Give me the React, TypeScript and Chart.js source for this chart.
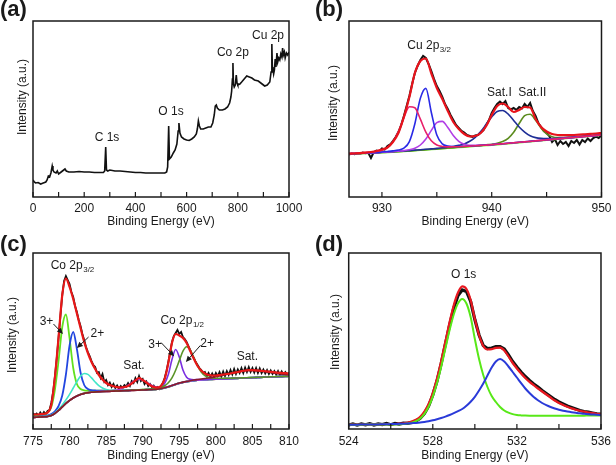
import React, { useEffect, useRef } from "react";
import { Chart, registerables } from "chart.js";

Chart.register(...registerables);

const FONT = '"Liberation Sans", Arial, Helvetica, sans-serif';
const INK = "#1a1a1a";

function grid(start: number, step: number, n: number): number[] {
  return Array.from({ length: n }, (_, i) => Math.round((start + step * i) * 100) / 100);
}

// ---------------- (a) survey ----------------
const surveyEnergy = [0,5,10,20,30,40,50,55,60,65,70,75,78,82,90,95,100,110,120,125,130,140,160,180,200,220,240,260,275,280,284,287,292,300,320,340,360,380,400,420,440,460,480,500,515,522,526,530,533,540,548,555,562,567,570,574,580,590,600,610,620,630,638,642,646,650,655,665,675,685,695,702,708,712,716,720,728,740,750,760,768,773,776,779,781,783,786,790,794,797,800,808,815,825,835,845,855,865,880,895,905,915,925,930,933,935,937,940,943,946,949,953,956,960,964,968,972,975,978,982,985,990,995,1000];
const surveyIntensity = [17,15,14,14.5,13,14,15,17,21,20,24,31,27,25,24,26,23,25,27,28,26,25,25,25.5,25,25,24.5,24.5,24.5,26,50,27,26,27,26,26,25.5,25,24.5,24.5,24,24,24,24,24,25,30,71,38,40,44,47,53,66,74,64,60,58,57,56.5,58,60,63,68,76,71,68,68,69,70,70,74,82,91,92,89,87,87,88,90,94,100,106,118,134,113,110,112,122,114,112,113,115,118,121,120,119,117,116,113,111,112,115,125,153,130,128,123,127,138,130,144,135,139,137,143,140,149,142,145,139,144,142,145];
const aTickLabels = [0,200,400,600,800,1000];
const aTickMarks = [0,100,200,300,400,500,600,700,800,900,1000];

// ---------------- (b) Cu 2p ----------------
const bTickLabels = [930,940,950];
const bTickMarks = [930,935,940,945,950];
const bBackground = [43.0,43.2,43.4,43.6,43.8,44.0,44.3,44.6,44.9,45.2,45.5,45.9,46.3,46.7,47.1,47.5,47.9,48.3,48.7,49.1,49.5,49.9,50.3,50.7,51.1,51.5,51.9,52.4,52.9,53.4,53.9,54.4,54.9,55.4,55.9,56.4,56.9,57.4,57.9,58.4,58.9,59.4,59.9,60.4,60.9,61.4,61.9];
const bPink = [0.5,0.6,0.7,0.9,1.1,1.5,2.5,4.7,10.2,20.2,33.9,44.4,43.0,31.1,17.8,8.7,4.1,2.2,1.4,1.1,0.8,0.7,0.6,0.5,0.5,0.4,0.4,0.35,0.3,0.3,0.3,0.3,0.25,0.25,0.25,0.2,0.2,0.2,0.2,0.2,0.2,0.15,0.15,0.15,0.15,0.15,0.1];
const bBlue = [0.3,0.3,0.35,0.4,0.45,0.55,0.7,0.9,1.2,1.8,3.4,9.5,27,52,61.5,37,14,4.8,2.2,1.4,1.0,0.8,0.6,0.55,0.5,0.45,0.4,0.38,0.35,0.33,0.3,0.3,0.28,0.27,0.26,0.25,0.24,0.23,0.22,0.21,0.2,0.2,0.2,0.19,0.18,0.18,0.17];
const bViolet = [0.2,0.2,0.2,0.25,0.3,0.3,0.4,0.4,0.5,0.7,0.9,1.3,2.5,5.3,10.9,19.1,26.4,27.3,20.8,12.4,6.2,2.9,1.5,1.0,0.7,0.6,0.5,0.5,0.4,0.35,0.3,0.3,0.3,0.28,0.26,0.25,0.24,0.23,0.22,0.21,0.2,0.2,0.2,0.19,0.19,0.18,0.18];
const bSatI = [0.3,0.3,0.3,0.32,0.35,0.37,0.4,0.42,0.45,0.48,0.5,0.52,0.55,0.58,0.6,0.65,0.7,0.9,1.1,1.4,2.1,3.2,5.4,9.0,14.4,21.2,28.2,33.1,33.6,29.5,22.6,15.6,10.0,5.8,3.5,2.2,1.5,1.1,0.9,0.8,0.7,0.6,0.5,0.45,0.4,0.4,0.38];
const bSatII = [0.15,0.15,0.15,0.15,0.16,0.16,0.17,0.17,0.18,0.19,0.2,0.2,0.21,0.22,0.23,0.24,0.26,0.28,0.3,0.32,0.35,0.38,0.4,0.45,0.5,0.7,0.9,1.3,2.5,5.3,10.9,19.1,26.4,27.3,20.8,12.4,6.2,2.9,1.5,1.0,0.7,0.6,0.5,0.5,0.4,0.4,0.3];
const bEnvelope = [43.3,43.5,43.8,44.3,45,46,47.5,49.5,55,64,80,100,124,136,138.5,123.5,109,98,86,75,68,63,60.5,61,64,71,82,91,93.5,90,85,87,90,89.5,78,70,65.5,63,62,61.8,61.8,62,62.3,62.7,63.1,63.5,64];
const bRaw = [42.5,43.5,42.8,44.0, 43.2,44.5,43.8,44.2, 39.0,44.8,46.5,45.5, 48.5,47.5,51.0,52.5, 56,60,65,72, 81,91,101,113, 124,131,137,141, 139,133,126,118, 111,106,100,93, 88,82,77,72, 69,66,64.5,62, 61,60,61.5,62, 64.5,67,72,77, 84,89,93,95.5, 93,96,89,87.5, 89,87,90,88.5, 93,90,94,86, 81,74,70,66, 64,61,55,58, 52,56,53,55, 51,56,54,57, 52.5,57,55,58.5, 56,59,60.5,59, 62];

// ---------------- (c) Co 2p ----------------
const cTickLabels = [775,780,785,790,795,800,805,810];
const cTickMarks = [775,777.5,780,782.5,785,787.5,790,792.5,795,797.5,800,802.5,805,807.5,810];
const cBackground = [11.5,11.7,12,12.2,12.5,13.5,15.5,18.5,22,25.5, 28.5,31,33,34.5,35.5,36.2,36.7,37,37.2,37.4, 37.5,37.6,37.8,37.9,38,38.2,38.3,38.5,38.6,38.8, 38.9,39,39.2,39.4,39.7,40.2,41,42,43.2,44.5, 45.6,46.5,47.2,47.8,48.3,48.7,49,49.2,49.4,49.6, 49.7,49.9,50,50.2,50.3,50.5,50.6,50.8,50.9,51.1, 51.2,51.4,51.5,51.7,51.8,52,52.1,52.3,52.4,52.6, 52.7];
const cGreen3 = [1.1,1.3,1.7,2.4,4,8.5,24,50,80,89, 62,30,12,5.5,3.2,2.2,1.6,1.3,1.1,0.95, 0.85,0.75,0.6,0.55,0.5,0.45,0.4,0.38,0.36,0.35, 0.33,0.31,0.3,0.29,0.28,0.27,0.26,0.25,0.24,0.23, 0.22,0.22,0.21,0.2,0.2,0.19,0.19,0.18,0.18,0.17, 0.17,0.16,0.16,0.15,0.15,0.15,0.14,0.14,0.14,0.13, 0.13,0.13,0.12,0.12,0.12,0.12,0.11,0.11,0.11,0.11, 0.1];
const cBlue2 = [0.5,0.6,0.75,0.9,1.1,1.5,2.2,4.5,11.5,29, 55,66,47,22,8.5,3.8,2.1,1.5,1.1,0.9, 0.75,0.6,0.55,0.45,0.4,0.36,0.33,0.31,0.3,0.28, 0.27,0.26,0.25,0.24,0.23,0.22,0.21,0.2,0.2,0.19, 0.18,0.18,0.17,0.17,0.16,0.16,0.15,0.15,0.15,0.14, 0.14,0.14,0.13,0.13,0.13,0.13,0.12,0.12,0.12,0.12, 0.12,0.11,0.11,0.11,0.11,0.11,0.1,0.1,0.1,0.1, 0.1];
const cCyan = [0.3,0.3,0.35,0.4,0.5,0.6,0.85,1.2,2.1,3.6, 6.2,10,14.4,18.4,20,18.4,14.4,10,6.2,3.6, 2.1,1.2,0.85,0.6,0.5,0.45,0.35,0.33,0.3,0.28, 0.26,0.25,0.23,0.22,0.2,0.2,0.19,0.19,0.18,0.18, 0.17,0.17,0.16,0.16,0.15,0.15,0.15,0.14,0.14,0.14, 0.13,0.13,0.13,0.13,0.12,0.12,0.12,0.12,0.12,0.11, 0.11,0.11,0.11,0.11,0.11,0.1,0.1,0.1,0.1,0.1, 0.1];
const cSat1 = [0.08,0.08,0.08,0.08,0.09,0.09,0.09,0.1,0.1,0.1, 0.11,0.11,0.12,0.13,0.14,0.16,0.17,0.2,0.22,0.28, 0.35,0.47,0.7,1.15,2.0,3.4,5.5,7.9,10.1,11, 10.1,7.9,5.5,3.4,2.0,1.15,0.7,0.47,0.35,0.28, 0.24,0.2,0.18,0.16,0.15,0.14,0.13,0.12,0.11,0.1, 0.1,0.1,0.1,0.09,0.09,0.09,0.09,0.09,0.08,0.08, 0.08,0.08,0.08,0.08,0.07,0.07,0.07,0.07,0.07,0.07, 0.07];
const cPurple3 = [0.07,0.07,0.07,0.07,0.08,0.08,0.08,0.08,0.08,0.09, 0.09,0.09,0.09,0.1,0.1,0.1,0.1,0.11,0.11,0.11, 0.12,0.13,0.14,0.15,0.16,0.17,0.19,0.2,0.24,0.28, 0.33,0.4,0.5,0.7,1.0,1.8,4.6,12.4,26.3,35, 26.3,12.4,4.6,1.8,1.0,0.7,0.5,0.4,0.33,0.28, 0.24,0.22,0.2,0.19,0.17,0.16,0.15,0.15,0.14,0.14, 0.13,0.13,0.12,0.12,0.12,0.11,0.11,0.11,0.1,0.1, 0.1];
const cOlive2 = [0.1,0.1,0.1,0.1,0.11,0.11,0.11,0.11,0.12,0.12, 0.12,0.13,0.13,0.14,0.14,0.15,0.15,0.16,0.16,0.17, 0.19,0.2,0.22,0.23,0.25,0.27,0.3,0.33,0.36,0.42, 0.5,0.58,0.67,0.85,1.05,1.4,2.3,4.2,7.9,14.3, 22.8,31.3,35,31.3,22.8,14.3,7.9,4.2,2.3,1.4, 1.05,0.85,0.67,0.58,0.5,0.42,0.36,0.33,0.3,0.28, 0.26,0.24,0.22,0.21,0.2,0.19,0.18,0.17,0.16,0.16, 0.15];
const cSat2 = [0.05,0.05,0.05,0.05,0.05,0.05,0.05,0.05,0.05,0.05, 0.05,0.05,0.05,0.05,0.05,0.05,0.05,0.05,0.05,0.05, 0.06,0.06,0.07,0.07,0.08,0.08,0.09,0.09,0.1,0.1, 0.11,0.11,0.12,0.13,0.14,0.15,0.17,0.19,0.21,0.24, 0.3,0.35,0.42,0.5,0.63,0.78,1.0,1.25,1.6,2.0, 2.5,3.1,3.8,4.5,5.2,5.9,6.5,7.05,7.4,7.5, 7.4,7.05,6.5,5.9,5.2,4.5,3.8,3.1,2.5,2.0, 1.6];
const cEnvelope = [14.5,14.5,14.8,15.2,16.5,24,52,92,134,150.5, 142,130,115.5,101,87,76,67,60,54,49.5, 46,44,42.7,41.8,41.5,42,43,45.5,48.5,51, 49,46.5,43.8,42,41.5,43,50,66,86,95, 93.5,91,86,78,70,63,58.5,55.5,54,53.5, 53.5,54,54.5,55,55.5,56.3,57,57.8,58.5,58.8, 58.8,58.6,58.3,58,57.6,57.2,56.8,56.4,56.1,55.8, 55.6];
const cRaw = [16,14,15.5,13, 16.5,14,17,15, 18,19,26,37, 53,71,92,113, 134,148,153,149, 145,137,132,123, 117,109,103,95, 89,82,77,73, 68,64,62,56, 57,51,55,47, 49,44,46.5,42, 45,41,43.5,40, 43,41,44,42.5, 46,43,48,46, 51,47,53,48, 50,45,47.5,43, 45,42,43.5,40.5, 42,40,43,46, 51,58,67,77, 87,93,96,99, 95,97,92,90, 87,83,79,74, 71,67,64,61, 59,56,57,53, 56,52,55.5,52, 56,53,57,52.5, 57.5,53,58,54, 59,54.5,60,55, 59.5,56,61,56, 61.5,57,62,57, 61,56.5,61,56, 60.5,56,59.5,55.5, 59,55,58.5,55, 58,54.5,58,54, 57.5,54,57,54.5, 56];

// ---------------- (d) O 1s ----------------
const dTickLabels = [524,528,532,536];
const dTickMarks = [524,526,528,530,532,534,536];
const dLattice = [4.3,4.3,4.35,4.35,4.4,4.4,4.45,4.45,4.5,4.5, 4.5,4.6,4.7,4.9,5.4,6.2,7.8,10.5,15.1,22.2, 32.4,45.9,62.3,80.6,98.9,114.8,125.8,130.1,125.5,112, 90,70,54,42,33,27,22,18.5,16.3,14.9, 14.0,13.6,13.4,13.3,13.3,13.3,13.3,13.3,13.3,13.3, 13.3,13.3,13.3,13.3,13.35,13.35,13.35,13.4,13.4,13.4, 13.4];
const dDefect = [4.3,4.3,4.35,4.4,4.45,4.5,4.55,4.6,4.7,4.8, 4.9,5.0,5.15,5.3,5.5,5.8,6.1,6.5,7.1,7.8, 8.7,9.8,11.0,12.4,14.0,15.8,17.8,20.0,23.3,27.3, 32.2,38.5,45.5,53.5,61.5,67.5,70.0,67.5,62.5,57, 51.5,45.8,40.5,36,32,28.8,26,23.8,22,20.5, 19.3,18.3,17.5,16.8,16.2,15.7,15.2,14.8,14.5,14.2, 14.0];
const dEnvelope = [4.4,4.4,4.45,4.5,4.5,4.55,4.6,4.65,4.7,4.8, 4.9,5.0,5.3,5.7,6.3,7.4,9.2,12.2,17.3,25, 36,50.5,68,87.5,107,124,136.5,142.7,140,129, 110,94,83,79.5,79.8,81.2,81.4,78.5,72.5,66, 60.5,55.5,51,47.2,43.8,40.5,37.5,34.5,31.5,28.5, 26,24,22.2,20.6,19.3,18.2,17.3,16.5,15.8,15.2, 14.7];
const dRaw = [4.0,5.2,3.8,5.0,4.2,5.4,3.9,5.1,4.4,5.6, 4.3,5.5,4.9,5.8,5.7,6.6,8.0,10.8,15.5,23, 34,48,65.5,85,104,121,133.5,139,137.5,127.5, 109.5,94,83.5,80.5,81,82.5,82.3,80,74,67.5, 62,57,52.5,48.5,45,42,38.5,35.5,32.5,29.5, 27,25,23,21.5,20,18.5,17.5,16.8,16,15.2, 14.8];

// ---------------- helpers ----------------
const bE = grid(927, 0.5, 47);
const bRawE = grid(927, 0.25, 93);
const cE = grid(775, 0.5, 71);
const cRawE = grid(775, 0.25, 141);
const dE = grid(524, 0.2, 61);

const onBg = (bg: number[], h: number[]) => bg.map((b, i) => b + h[i]);

function line(xs: number[], ys: number[], color: string, width: number, smooth = true) {
  return {
    data: xs.map((x, i) => ({ x, y: ys[i] })),
    borderColor: color,
    borderWidth: width,
    pointRadius: 0,
    fill: false,
    tension: smooth ? 0.4 : 0,
    cubicInterpolationMode: smooth ? "monotone" : "default",
  };
}

const decorPlugin = {
  id: "decor",
  afterDraw(chart: any, _a: any, o: any) {
    const { ctx, chartArea: ca } = chart;
    const xs = chart.scales.x;
    const ys = chart.scales.y;
    ctx.save();
    ctx.strokeStyle = INK;
    ctx.lineWidth = 1.5;
    ctx.strokeRect(ca.left, ca.top, ca.right - ca.left, ca.bottom - ca.top);
    ctx.lineWidth = 1.2;
    for (const v of o.tickMarks) {
      const px = xs.getPixelForValue(v);
      ctx.beginPath();
      ctx.moveTo(px, ca.bottom);
      ctx.lineTo(px, ca.bottom - 5);
      ctx.stroke();
    }
    ctx.fillStyle = INK;
    ctx.textBaseline = "middle";
    ctx.textAlign = "left";
    for (const l of o.labels) {
      ctx.font = `12px ${FONT}`;
      const w = ctx.measureText(l.text).width;
      let sw = 0;
      if (l.sub) {
        ctx.font = `8px ${FONT}`;
        sw = ctx.measureText(l.sub).width + 0.5;
      }
      const cx = xs.getPixelForValue(l.x);
      const cy = ys.getPixelForValue(l.y);
      const left = cx - (w + sw) / 2;
      ctx.font = `12px ${FONT}`;
      ctx.fillText(l.text, left, cy);
      if (l.sub) {
        ctx.font = `8px ${FONT}`;
        ctx.fillText(l.sub, left + w + 0.5, cy + 4.5);
      }
    }
    for (const a of o.arrows) {
      const x1 = xs.getPixelForValue(a.x1), y1 = ys.getPixelForValue(a.y1);
      const x2 = xs.getPixelForValue(a.x2), y2 = ys.getPixelForValue(a.y2);
      const ang = Math.atan2(y2 - y1, x2 - x1);
      const c = Math.cos(ang), s = Math.sin(ang);
      ctx.lineWidth = 1;
      ctx.beginPath();
      ctx.moveTo(x1, y1);
      ctx.lineTo(x2 - 4 * c, y2 - 4 * s);
      ctx.stroke();
      const hl = 6, hw = 2.8;
      ctx.beginPath();
      ctx.moveTo(x2, y2);
      ctx.lineTo(x2 - hl * c + hw * s, y2 - hl * s - hw * c);
      ctx.lineTo(x2 - hl * c - hw * s, y2 - hl * s + hw * c);
      ctx.closePath();
      ctx.fill();
    }
    ctx.save();
    ctx.translate(o.yTitle[0], o.yTitle[1]);
    ctx.rotate(-Math.PI / 2);
    ctx.font = `12px ${FONT}`;
    ctx.textAlign = "center";
    ctx.fillText("Intensity (a.u.)", 0, 0);
    ctx.restore();
    ctx.font = `bold 22px ${FONT}`;
    ctx.textAlign = "left";
    ctx.fillText(o.letter, o.letterPos[0], o.letterPos[1]);
    ctx.restore();
  },
};

function makeConfig(p: any): any {
  return {
    type: "line",
    data: { datasets: p.datasets },
    options: {
      animation: false,
      responsive: false,
      maintainAspectRatio: false,
      events: [],
      layout: { padding: { left: 0, right: p.padRight, top: 21, bottom: 0 } },
      plugins: {
        legend: { display: false },
        tooltip: { enabled: false },
        decor: p.decor,
      },
      scales: {
        x: {
          type: "linear",
          min: p.min,
          max: p.max,
          afterBuildTicks: (s: any) => {
            s.ticks = p.tickLabels.map((v: number) => ({ value: v }));
          },
          afterFit: (s: any) => {
            s.height = p.h - 197;
          },
          ticks: {
            autoSkip: false,
            maxRotation: 0,
            padding: p.tickPad,
            color: INK,
            font: { family: FONT, size: 12 },
            callback: (v: any) => String(v),
          },
          grid: { display: false, drawTicks: false },
          border: { display: false },
          title: {
            display: true,
            text: "Binding Energy (eV)",
            color: INK,
            font: { family: FONT, size: 12 },
            padding: { top: 0, bottom: p.titlePad },
          },
        },
        y: {
          min: 0,
          max: 176,
          ticks: { display: false },
          grid: { display: false, drawTicks: false },
          border: { display: false },
          afterFit: (s: any) => {
            s.width = p.yWidth;
          },
        },
      },
    },
    plugins: [decorPlugin],
  };
}

const panels: any[] = [
  {
    key: "a", left: 0, top: 0, w: 308, h: 232, yWidth: 33, padRight: 19, min: 0, max: 1000,
    tickLabels: aTickLabels, tickPad: 4.5, titlePad: 3,
    datasets: [line(surveyEnergy, surveyIntensity, "#111111", 1.6, false)],
    decor: {
      tickMarks: aTickMarks,
      labels: [
        { text: "C 1s", x: 289, y: 59 },
        { text: "O 1s", x: 539, y: 85 },
        { text: "Co 2p", x: 781, y: 144 },
        { text: "Cu 2p", x: 918, y: 161 },
      ],
      arrows: [],
      yTitle: [22.5, 97],
      letter: "(a)",
      letterPos: [0, 10],
    },
  },
  {
    key: "b", left: 308, top: 0, w: 308, h: 232, yWidth: 41, padRight: 12, min: 927, max: 950,
    tickLabels: bTickLabels, tickPad: 4.5, titlePad: 3,
    datasets: [
      line(bE, bEnvelope, "#e8141c", 2.2),
      line(bE, onBg(bBackground, bPink), "#e8206a", 1.6),
      line(bE, onBg(bBackground, bBlue), "#2a2ae6", 1.6),
      line(bE, onBg(bBackground, bViolet), "#b23ee6", 1.6),
      line(bE, onBg(bBackground, bSatI), "#1e2e96", 1.6),
      line(bE, onBg(bBackground, bSatII), "#5c8c1e", 1.6),
      line(bE, bBackground, "#70e828", 1.6),
      line(bRawE, bRaw, "#111111", 2, false),
    ],
    decor: {
      tickMarks: bTickMarks,
      labels: [
        { text: "Cu 2p", sub: "3/2", x: 934.3, y: 151.5 },
        { text: "Sat.I", x: 940.7, y: 104.5 },
        { text: "Sat.II", x: 943.7, y: 104.5 },
      ],
      arrows: [],
      yTitle: [26, 103],
      letter: "(b)",
      letterPos: [7, 10],
    },
  },
  {
    key: "c", left: 0, top: 232, w: 308, h: 233, yWidth: 33, padRight: 19, min: 775, max: 810,
    tickLabels: cTickLabels, tickPad: 5, titlePad: 2,
    datasets: [
      line(cE, cEnvelope, "#e81818", 2.2),
      line(cE, onBg(cBackground, cSat2), "#8a1a2a", 1.6),
      line(cE, onBg(cBackground, cOlive2), "#5a9428", 1.6),
      line(cE, onBg(cBackground, cPurple3), "#7a2ee0", 1.6),
      line(cE, onBg(cBackground, cSat1), "#b040d8", 1.6),
      line(cE, onBg(cBackground, cCyan), "#40e6c8", 1.6),
      line(cE, onBg(cBackground, cBlue2), "#2246e0", 1.8),
      line(cE, onBg(cBackground, cGreen3), "#62e020", 1.8),
      line(cE, cBackground, "#80203a", 1.6),
      line(cRawE, cRaw, "#111111", 1.8, false),
    ],
    decor: {
      tickMarks: cTickMarks,
      labels: [
        { text: "Co 2p", sub: "3/2", x: 780.4, y: 163.7 },
        { text: "3+", x: 776.85, y: 107.7 },
        { text: "2+", x: 783.8, y: 95.7 },
        { text: "Co 2p", sub: "1/2", x: 795.4, y: 108.5 },
        { text: "3+", x: 791.7, y: 84.7 },
        { text: "2+", x: 798.8, y: 85.7 },
        { text: "Sat.", x: 788.8, y: 63.7 },
        { text: "Sat.", x: 804.3, y: 72.7 },
      ],
      arrows: [
        { x1: 777.8, y1: 105, x2: 779.1, y2: 95 },
        { x1: 782.6, y1: 92, x2: 781.0, y2: 81 },
        { x1: 792.5, y1: 86.5, x2: 794.3, y2: 72.7 },
        { x1: 797.9, y1: 83.7, x2: 795.9, y2: 67 },
      ],
      yTitle: [12.5, 103],
      letter: "(c)",
      letterPos: [0, 13],
    },
  },
  {
    key: "d", left: 308, top: 232, w: 308, h: 233, yWidth: 40.7, padRight: 12, min: 524, max: 536,
    tickLabels: dTickLabels, tickPad: 5, titlePad: 2,
    datasets: [
      line(dE, dDefect, "#2a3ad8", 2),
      line(dE, dLattice, "#58e818", 2),
      line(dE, dEnvelope, "#e81820", 2.2),
      line(dE, dRaw, "#111111", 3.2, false),
    ],
    decor: {
      tickMarks: dTickMarks,
      labels: [{ text: "O 1s", x: 529.47, y: 154 }],
      arrows: [],
      yTitle: [27.5, 100],
      letter: "(d)",
      letterPos: [7, 13],
    },
  },
];

function Panel({ spec }: { spec: any }) {
  const ref = useRef<HTMLCanvasElement | null>(null);
  useEffect(() => {
    if (!ref.current) return;
    const chart = new Chart(ref.current, makeConfig(spec));
    return () => chart.destroy();
  }, [spec]);
  return (
    <canvas
      ref={ref}
      width={spec.w}
      height={spec.h}
      style={{ position: "absolute", left: spec.left, top: spec.top, width: spec.w, height: spec.h }}
    />
  );
}

export default function App() {
  return (
    <div style={{ position: "fixed", left: 0, top: 0, width: 616, height: 465, background: "#ffffff" }}>
      {panels.map((p) => (
        <Panel key={p.key} spec={p} />
      ))}
    </div>
  );
}
